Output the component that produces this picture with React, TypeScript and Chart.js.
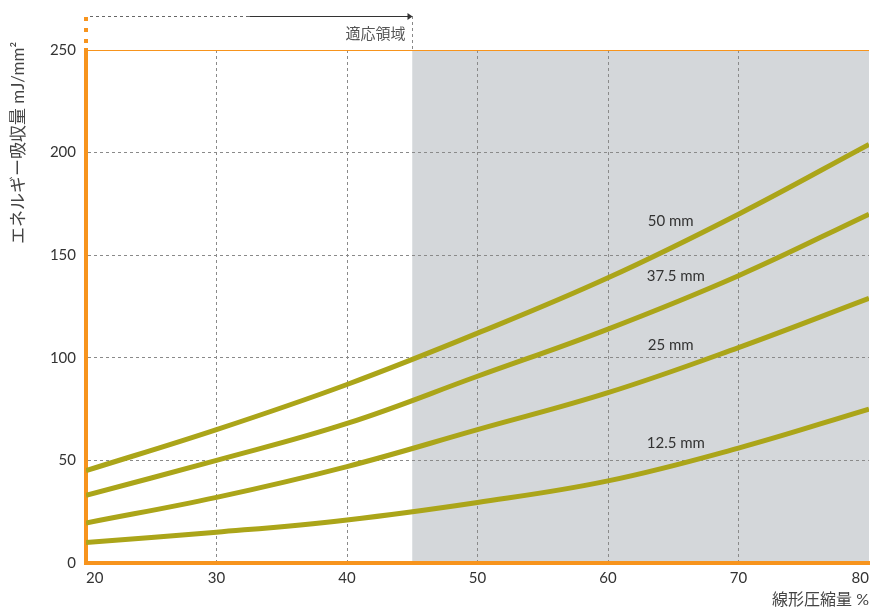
import React, { useEffect, useRef } from "react";
import { Chart, registerables } from "chart.js";
Chart.register(...registerables);

const xValues = [20, 30, 40, 50, 60, 70, 80];
const series50 = [45, 65, 87, 112, 139, 170, 204];
const series375 = [33, 50, 68, 91, 114, 140, 170];
const series25 = [19.5, 32, 47, 65, 83, 105, 129];
const series125 = [10, 15, 21, 29.5, 40, 56, 75];
const seriesNames = ["50 mm", "37.5 mm", "25 mm", "12.5 mm"];
const labelX = [64.8, 65.2, 64.8, 65.2];
const labelY = [166.5, 140, 106, 58.5];
const xTicks = [20, 30, 40, 50, 60, 70, 80];
const yTicks = [0, 50, 100, 150, 200, 250];
const regionStart = 45;
const regionLabel = "適応領域";
const xTitle = "線形圧縮量 %";
const yTitle = "エネルギー吸収量 mJ/mm²";

const FONT = "Lato, 'Noto Sans CJK JP', sans-serif";
const ORANGE = "#f7941d";
const OLIVE = "#aba519";

export default function App() {
  const ref = useRef<HTMLCanvasElement>(null);
  useEffect(() => {
    document.body.style.margin = "0";
    const allSeries = [series50, series375, series25, series125];
    const overlay = {
      id: "overlay",
      beforeDraw(chart: any) {
        const { ctx, chartArea, scales } = chart;
        const xs = scales.x;
        const x45 = xs.getPixelForValue(regionStart);
        ctx.save();
        ctx.fillStyle = "#d4d7da";
        ctx.fillRect(x45, chartArea.top, chartArea.right - x45, chartArea.bottom - chartArea.top);
        ctx.restore();
      },
      afterDatasetsDraw(chart: any) {
        const { ctx, chartArea, scales } = chart;
        const xs = scales.x;
        const ys = scales.y;
        const x45 = Math.round(xs.getPixelForValue(regionStart)) + 0.5;
        ctx.save();
        // top orange line
        ctx.strokeStyle = ORANGE;
        ctx.lineWidth = 1;
        ctx.beginPath();
        ctx.moveTo(chartArea.left, chartArea.top + 0.5);
        ctx.lineTo(chartArea.right, chartArea.top + 0.5);
        ctx.stroke();
        // dotted orange above axis
        ctx.lineWidth = 4;
        ctx.setLineDash([4, 7]);
        ctx.beginPath();
        ctx.moveTo(chartArea.left, 17);
        ctx.lineTo(chartArea.left, chartArea.top - 2);
        ctx.stroke();
        // top dashed line
        ctx.setLineDash([3, 3]);
        ctx.strokeStyle = "#666";
        ctx.lineWidth = 1;
        const mid = (chartArea.left + x45) / 2;
        ctx.beginPath();
        ctx.moveTo(chartArea.left + 4, 16.5);
        ctx.lineTo(mid, 16.5);
        ctx.stroke();
        ctx.strokeStyle = "#888";
        ctx.beginPath();
        ctx.moveTo(x45, 16);
        ctx.lineTo(x45, chartArea.top);
        ctx.stroke();
        ctx.setLineDash([]);
        ctx.strokeStyle = "#333";
        ctx.beginPath();
        ctx.moveTo(mid, 16.5);
        ctx.lineTo(x45 - 4, 16.5);
        ctx.stroke();
        ctx.fillStyle = "#333";
        ctx.beginPath();
        ctx.moveTo(x45, 16.5);
        ctx.lineTo(x45 - 5, 13);
        ctx.lineTo(x45 - 5, 20);
        ctx.closePath();
        ctx.fill();
        // region label
        ctx.fillStyle = "#555";
        ctx.font = `15px ${FONT}`;
        ctx.textAlign = "right";
        ctx.textBaseline = "middle";
        ctx.fillText(regionLabel, x45 - 7, 34);
        // series labels
        ctx.fillStyle = "#333";
        ctx.font = `15px ${FONT}`;
        ctx.textAlign = "center";
        for (let i = 0; i < seriesNames.length; i++) {
          ctx.fillText(seriesNames[i], xs.getPixelForValue(labelX[i]), ys.getPixelForValue(labelY[i]));
        }
        // x title
        ctx.font = `16px ${FONT}`;
        ctx.textAlign = "right";
        ctx.fillStyle = "#444";
        ctx.fillText(xTitle, chartArea.right, 600);
        // y title
        ctx.font = `17px ${FONT}`;
        ctx.fillStyle = "#444";
        ctx.translate(19, 244);
        ctx.rotate(-Math.PI / 2);
        ctx.textAlign = "left";
        ctx.fillText(yTitle, 0, 0);
        ctx.restore();
      },
    };
    const edgeColor = (edgeVals: number[]) => (c: any) =>
      c.tick && edgeVals.includes(c.tick.value) ? "rgba(0,0,0,0)" : "#8a8a8a";
    const chart = new Chart(ref.current!, {
      type: "line",
      data: {
        datasets: allSeries.map((s, i) => ({
          label: seriesNames[i],
          data: xValues.map((x, j) => ({ x, y: s[j] })),
          borderColor: OLIVE,
          borderWidth: 5,
          pointRadius: 0,
          tension: 0.4,
          fill: false,
        })),
      },
      options: {
        animation: false,
        responsive: false,
        layout: { padding: { top: 50, right: 1, left: 0, bottom: 0 } },
        plugins: { legend: { display: false }, tooltip: { enabled: false } },
        scales: {
          x: {
            type: "linear",
            min: xTicks[0],
            max: xTicks[xTicks.length - 1],
            afterBuildTicks: (s: any) => {
              s.ticks = xTicks.map((v) => ({ value: v }));
            },
            afterFit: (s: any) => {
              s.height = 47;
              s.paddingLeft = 0;
              s.paddingRight = 0;
            },
            ticks: {
              align: "inner",
              color: "#333",
              font: { family: FONT, size: 15 },
              padding: 6,
              maxRotation: 0,
            },
            grid: { color: edgeColor([20, 80]), drawTicks: false, lineWidth: 1 },
            border: { color: ORANGE, width: 4, dash: [3, 3] },
          },
          y: {
            min: yTicks[0],
            max: yTicks[yTicks.length - 1],
            afterBuildTicks: (s: any) => {
              s.ticks = yTicks.map((v) => ({ value: v }));
            },
            afterFit: (s: any) => {
              s.width = 86;
              s.paddingTop = 0;
              s.paddingBottom = 0;
            },
            ticks: {
              color: "#333",
              font: { family: FONT, size: 15 },
              padding: 10,
            },
            grid: { color: edgeColor([0, 250]), drawTicks: false, lineWidth: 1 },
            border: { color: ORANGE, width: 4, dash: [3, 3] },
          },
        },
      },
      plugins: [overlay],
    } as any);
    return () => chart.destroy();
  }, []);
  return <canvas ref={ref} width={870} height={610} style={{ display: "block" }} />;
}
